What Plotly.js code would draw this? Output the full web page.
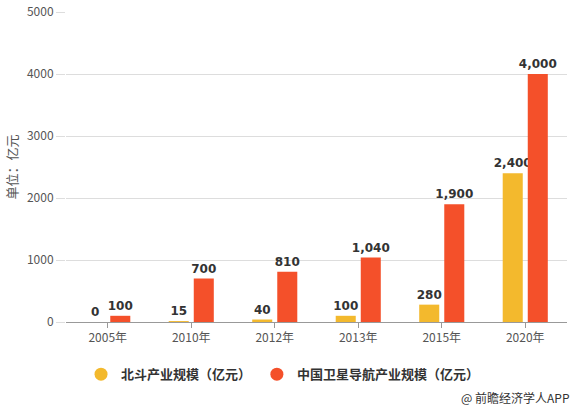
<!DOCTYPE html>
<html>
<head>
<meta charset="utf-8">
<script src="https://cdn.plot.ly/plotly-3.0.1.min.js"></script>
<style>html,body{margin:0;padding:0;background:#fff;}#chart{width:577px;height:408px;}</style>
</head>
<body>
<div id="chart"></div>
<script>
const categories = ["2005年", "2010年", "2012年", "2013年", "2015年", "2020年"];
const beidouValues = [0, 15, 40, 100, 280, 2400];
const navValues = [100, 700, 810, 1040, 1900, 4000];
const seriesNames = ["北斗产业规模（亿元）", "中国卫星导航产业规模（亿元）"];
const yTickValues = [0, 1000, 2000, 3000, 4000, 5000];
const colors = ["#F3B92D", "#F4502A"];

const labelFont = {family: "DejaVu Sans", size: 12, color: "#333", weight: "bold"};

const traces = [
  {type: "bar", x: categories, y: beidouValues, name: seriesNames[0], marker: {color: colors[0]},
   texttemplate: "%{y:,}", textposition: "outside", constraintext: "none", textfont: labelFont, cliponaxis: false, showlegend: false, hoverinfo: "skip"},
  {type: "bar", x: categories, y: navValues, name: seriesNames[1], marker: {color: colors[1]},
   texttemplate: "%{y:,}", textposition: "outside", constraintext: "none", textfont: labelFont, cliponaxis: false, showlegend: false, hoverinfo: "skip"},
  {type: "scatter", mode: "markers", x: [null], y: [null], name: seriesNames[0], marker: {color: colors[0], size: 13, symbol: "circle"}, showlegend: true, legend: "legend"},
  {type: "scatter", mode: "markers", x: [null], y: [null], name: seriesNames[1], marker: {color: colors[1], size: 13, symbol: "circle"}, showlegend: true, legend: "legend2"}
];

const legendFont = {size: 13, color: "#333", weight: "bold"};

const layout = {
  width: 577, height: 408,
  margin: {l: 66, r: 10, t: 12, b: 86},
  paper_bgcolor: "#fff", plot_bgcolor: "#fff",
  barmode: "group", bargap: 0.4, bargroupgap: 0.2,
  font: {family: "Noto Sans CJK SC, sans-serif", color: "#555", size: 12},
  xaxis: {type: "category", showgrid: false, showline: true, linecolor: "#999", linewidth: 1,
    ticks: "outside", ticklen: 5, tickcolor: "#999", tickfont: {size: 12, color: "#555"}, fixedrange: true},
  yaxis: {range: [0, 5000], tickvals: yTickValues, showgrid: true, gridcolor: "#ddd", zeroline: false, showline: false,
    ticks: "outside", ticklen: 9, tickcolor: "#ddd", tickfont: {size: 12, color: "#555"},
    title: {text: "单位：亿元", font: {size: 13, color: "#555"}, standoff: 6}, fixedrange: true},
  legend: {orientation: "h", x: 0.03, xanchor: "left", y: -0.12, yanchor: "top", font: legendFont, itemclick: false},
  legend2: {orientation: "h", x: 0.381, xanchor: "left", y: -0.12, yanchor: "top", font: legendFont, itemclick: false},
  annotations: [{xref: "paper", yref: "paper", x: 1.01, y: -0.242, xanchor: "right", yanchor: "middle",
    text: "@ 前瞻经济学人APP", showarrow: false, font: {size: 12, color: "#333"}}]
};

Plotly.newPlot("chart", traces, layout, {displayModeBar: false, staticPlot: true});
</script>
</body>
</html>
